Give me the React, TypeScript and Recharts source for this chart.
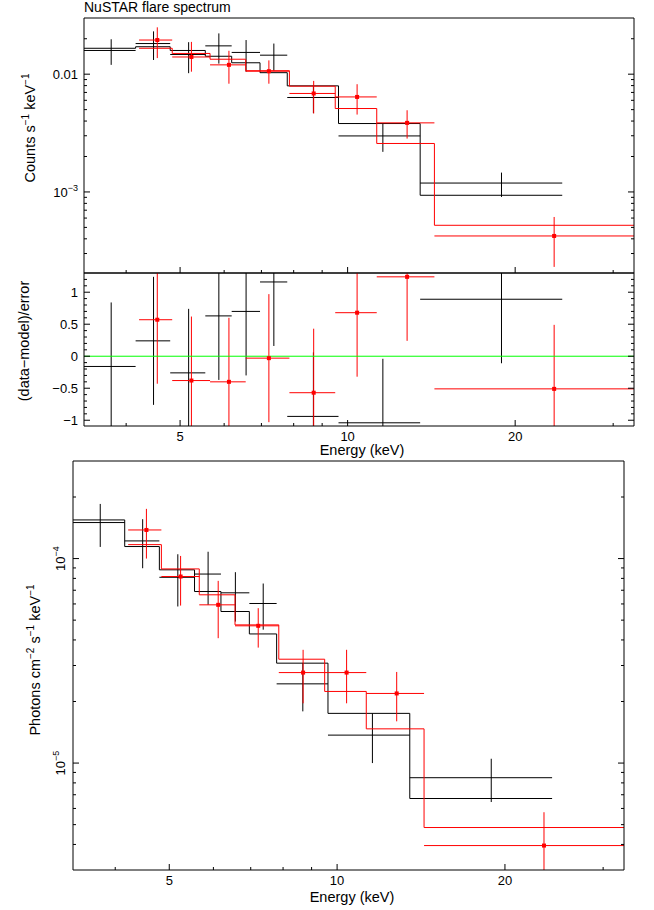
import React from 'react';
import { ComposedChart, Scatter, Line, XAxis, YAxis, ErrorBar, ReferenceLine } from 'recharts';

const FONT = '"Liberation Sans", Arial, Helvetica, sans-serif';
const W = 654;

// energy bins (keV) of the two detectors
const blackEdges = [3.35, 4.16, 4.8, 5.55, 6.19, 6.96, 7.79, 9.63, 13.5, 24.3];
const blackEnergy = [3.76, 4.48, 5.18, 5.87, 6.57, 7.37, 8.68, 11.57, 18.9];
const redEdges = [4.22, 4.84, 5.66, 6.56, 7.86, 9.5, 11.28, 14.32, 32.7];
const redEnergy = [4.55, 5.24, 6.12, 7.22, 8.69, 10.4, 12.79, 23.5];

// counts s-1 keV-1
const blackCounts = [0.0159, 0.0182, 0.0147, 0.0174, 0.0153, 0.0145, 0.00634, 0.00299, 0.00119];
const blackCountsLo = [0.012, 0.0132, 0.0102, 0.0123, 0.0105, 0.0107, 0.00467, 0.00219, 0.000907];
const blackCountsHi = [0.0198, 0.0231, 0.0187, 0.0222, 0.0195, 0.0182, 0.00801, 0.00381, 0.00146];
const blackCountsModel = [0.0166, 0.0171, 0.0159, 0.0142, 0.0125, 0.0103, 0.00796, 0.00381, 0.000937];
const redCounts = [0.0195, 0.014, 0.012, 0.0106, 0.00686, 0.00641, 0.00386, 0.000423];
const redCountsLo = [0.0137, 0.0105, 0.0083, 0.0083, 0.00464, 0.00454, 0.00284, 0.000231];
const redCountsHi = [0.025, 0.0188, 0.0158, 0.0131, 0.00877, 0.00822, 0.00494, 0.000613];
const redCountsModel = [0.0166, 0.015, 0.0134, 0.0107, 0.00791, 0.00511, 0.00258, 0.000521];

// (data-model)/error, error is 1 by definition
const blackResid = [-0.16, 0.24, -0.26, 0.63, 0.7, 1.16, -0.94, -1.04, 0.89];
const redResid = [0.57, -0.38, -0.4, -0.03, -0.57, 0.68, 1.24, -0.51];

// photons cm-2 s-1 keV-1
const blackFlux = [1.5e-4, 1.22e-4, 8.1e-5, 8.4e-5, 6.8e-5, 6.03e-5, 2.44e-5, 1.37e-5, 8.48e-6];
const blackFluxLo = [1.14e-4, 8.97e-5, 5.83e-5, 5.94e-5, 4.92e-5, 4.49e-5, 1.79e-5, 1.0e-5, 6.45e-6];
const blackFluxHi = [1.85e-4, 1.558e-4, 1.05e-4, 1.08e-4, 8.58e-5, 7.55e-5, 3.09e-5, 1.75e-5, 1.05e-5];
const blackFluxModel = [1.545e-4, 1.145e-4, 8.81e-5, 6.9e-5, 5.51e-5, 4.28e-5, 3.08e-5, 1.75e-5, 6.71e-6];
const redFlux = [1.38e-4, 8.17e-5, 5.94e-5, 4.69e-5, 2.77e-5, 2.77e-5, 2.19e-5, 3.95e-6];
const redFluxLo = [1.0e-4, 5.89e-5, 4.08e-5, 3.67e-5, 1.96e-5, 1.96e-5, 1.6e-5, 2.15e-6];
const redFluxHi = [1.75e-4, 1.03e-4, 7.78e-5, 5.72e-5, 3.58e-5, 3.58e-5, 2.79e-5, 5.75e-6];
const redFluxModel = [1.17e-4, 8.9e-5, 6.65e-5, 4.74e-5, 3.22e-5, 2.24e-5, 1.47e-5, 4.84e-6];

// axes
const xDomain = [3.36, 32.7];
const xTicks = [4, 5, 6, 7, 8, 9, 10, 20, 30];
const xLabelled = [5, 10, 20];
const countsDomain = [2.05e-4, 0.03];
const countsTicks = [3e-4, 4e-4, 5e-4, 6e-4, 7e-4, 8e-4, 9e-4, 1e-3, 2e-3, 3e-3, 4e-3, 5e-3, 6e-3, 7e-3, 8e-3, 9e-3, 0.01, 0.02];
const countsMajors = [1e-3, 0.01];
const residDomain = [-1.09, 1.3];
const residTicks = [-1, -0.9, -0.8, -0.7, -0.6, -0.5, -0.4, -0.3, -0.2, -0.1, 0, 0.1, 0.2, 0.3, 0.4, 0.5, 0.6, 0.7, 0.8, 0.9, 1, 1.1, 1.2];
const residMajors = [-1, -0.5, 0, 0.5, 1];
const residLabels = ['\u22121', '\u22120.5', '0', '0.5', '1'];
const fluxDomain = [3e-6, 3e-4];
const fluxTicks = [4e-6, 5e-6, 6e-6, 7e-6, 8e-6, 9e-6, 1e-5, 2e-5, 3e-5, 4e-5, 5e-5, 6e-5, 7e-5, 8e-5, 9e-5, 1e-4, 2e-4];
const fluxMajors = [1e-5, 1e-4];

// error bars are cut at the frame, like the plotting package does
const toPoints = (energy: number[], edges: number[], val: number[], lo: number[], hi: number[], dom: number[]) =>
  energy.map((e, i) => ({
    x: e,
    y: val[i],
    ex: [e - Math.max(edges[i], xDomain[0]), Math.min(edges[i + 1], xDomain[1]) - e],
    ey: [val[i] - Math.max(lo[i], dom[0]), Math.min(hi[i], dom[1]) - val[i]],
  }));
const toResid = (energy: number[], edges: number[], val: number[]) =>
  toPoints(energy, edges, val, val.map((v) => v - 1), val.map((v) => v + 1), residDomain);
const toSteps = (edges: number[], model: number[]) =>
  edges.map((e, i) => ({ x: e, y: model[Math.min(i, model.length - 1)] }));

const noMarker = () => <g />;
const redSquare = (p: any) => <rect x={p.cx - 2} y={p.cy - 2} width={4} height={4} fill="#ff0000" />;

const txt = { fontFamily: FONT, fill: '#000' };
const BLACK = '#000000';
const RED = '#ff0000';

function dataSeries(key: string, pts: any[], color: string, marker: boolean) {
  return (
    <Scatter key={key} data={pts} xAxisId="b" yAxisId="l" isAnimationActive={false} shape={marker ? redSquare : noMarker}>
      <ErrorBar dataKey="ex" direction="x" width={0} stroke={color} strokeWidth={1} isAnimationActive={false} />
      <ErrorBar dataKey="ey" direction="y" width={0} stroke={color} strokeWidth={1} isAnimationActive={false} />
    </Scatter>
  );
}

function modelSeries(key: string, pts: any[], color: string) {
  return (
    <Line key={key} data={pts} dataKey="y" xAxisId="b" yAxisId="l" type="stepAfter" stroke={color} strokeWidth={1}
      dot={false} activeDot={false} isAnimationActive={false} />
  );
}

// tick renderers: ticks point inward, majors are longer
const xTick = (side: 'top' | 'bottom', labelled: boolean) => (p: any) => {
  const v = p.payload.value;
  const major = xLabelled.includes(v);
  const dir = side === 'bottom' ? -1 : 1;
  return (
    <g>
      <line x1={p.x} x2={p.x} y1={p.y} y2={p.y + dir * (major ? 6 : 3)} stroke="#000" />
      {labelled && major ? (
        <text x={p.x} y={p.y + 14.5} textAnchor="middle" fontSize={13} {...txt}>{v}</text>
      ) : null}
    </g>
  );
};

const yTick = (side: 'left' | 'right', majors: number[], label?: (v: number, x: number, y: number) => any) => (p: any) => {
  const v = p.payload.value;
  const major = majors.includes(v);
  const dir = side === 'left' ? 1 : -1;
  return (
    <g>
      <line x1={p.x} x2={p.x + dir * (major ? 6 : 3)} y1={p.y} y2={p.y} stroke="#000" />
      {side === 'left' && major && label ? label(v, p.x, p.y) : null}
    </g>
  );
};

const sup = (s: string, size = 10) => <tspan dy={-6} fontSize={size}>{s}</tspan>;

const countsLabel = (v: number, x: number, y: number) => (
  <text x={x - 6} y={y} dy="0.36em" textAnchor="end" fontSize={13} {...txt}>
    {v === 0.01 ? '0.01' : <>10{sup('\u22123', 9)}</>}
  </text>
);
const residLabel = (v: number, x: number, y: number) => (
  <text x={x - 6} y={y} dy="0.36em" textAnchor="end" fontSize={13} {...txt}>
    {residLabels[residMajors.indexOf(v)]}
  </text>
);
const fluxLabel = (v: number, x: number, y: number) => (
  <text transform={`rotate(-90 ${x - 7.5} ${y})`} x={x - 7.5} y={y} textAnchor="middle" fontSize={13} {...txt}>
    10{sup(v === 1e-4 ? '\u22124' : '\u22125', 9)}
  </text>
);

const axisLine = { stroke: '#000', strokeWidth: 1 };

function xAxes(bottomH: number, topH: number, labelled: boolean, title?: any) {
  return [
    <XAxis key="xb" xAxisId="b" dataKey="x" type="number" scale="log" domain={xDomain} allowDataOverflow ticks={xTicks}
      interval={0} height={bottomH} tickSize={0} tickMargin={0} tickLine={false} axisLine={axisLine}
      tick={xTick('bottom', labelled)} label={title} />,
    <XAxis key="xt" xAxisId="t" orientation="top" type="number" scale="log" domain={xDomain} allowDataOverflow ticks={xTicks}
      interval={0} height={topH} tickSize={0} tickMargin={0} tickLine={false} axisLine={axisLine} tick={xTick('top', false)} />,
  ];
}

function yAxes(leftW: number, rightW: number, scale: any, domain: number[], ticks: number[], majors: number[],
  label: (v: number, x: number, y: number) => any, title: any) {
  return [
    <YAxis key="yl" yAxisId="l" dataKey="y" type="number" scale={scale} domain={domain} allowDataOverflow ticks={ticks}
      interval={0} width={leftW} tickSize={0} tickMargin={0} tickLine={false} axisLine={axisLine}
      tick={yTick('left', majors, label)} label={title} />,
    <YAxis key="yr" yAxisId="r" orientation="right" type="number" scale={scale} domain={domain} allowDataOverflow ticks={ticks}
      interval={0} width={rightW} tickSize={0} tickMargin={0} tickLine={false} axisLine={axisLine}
      tick={yTick('right', majors)} />,
  ];
}

const margin = { top: 0, right: 0, bottom: 0, left: 0 };

export default function App() {
  return (
    <div style={{ position: 'absolute', left: 0, top: 0, width: W, height: 910, background: '#fff', fontFamily: FONT }}>
      {/* counts panel */}
      <div style={{ position: 'absolute', left: 0, top: 0 }}>
        <ComposedChart width={W} height={278} margin={margin}>
          {xAxes(5, 18, false, () => (
            <text x={84} y={12} fontSize={14} {...txt}>NuSTAR flare spectrum</text>
          ))}
          {yAxes(84, 20, 'log', countsDomain, countsTicks, countsMajors, countsLabel, () => (
            <text transform="rotate(-90 35 128)" x={35} y={128} textAnchor="middle" fontSize={14.5} {...txt}>
              Counts s{sup('\u22121')}<tspan dy={6}> keV</tspan>{sup('\u22121')}
            </text>
          ))}
          {modelSeries('bm', toSteps(blackEdges, blackCountsModel), BLACK)}
          {dataSeries('bd', toPoints(blackEnergy, blackEdges, blackCounts, blackCountsLo, blackCountsHi, countsDomain), BLACK, false)}
          {modelSeries('rm', toSteps(redEdges, redCountsModel), RED)}
          {dataSeries('rd', toPoints(redEnergy, redEdges, redCounts, redCountsLo, redCountsHi, countsDomain), RED, true)}
        </ComposedChart>
      </div>

      {/* residual panel */}
      <div style={{ position: 'absolute', left: 0, top: 263 }}>
        <ComposedChart width={W} height={200} margin={margin}>
          {xAxes(37, 10, true, () => (
            <text x={362} y={192} textAnchor="middle" fontSize={14.5} {...txt}>Energy (keV)</text>
          ))}
          {yAxes(84, 20, 'linear', residDomain, residTicks, residMajors, residLabel, () => (
            <text transform="rotate(-90 29 78)" x={29} y={78} textAnchor="middle" fontSize={14.5} {...txt}>
              (data{'\u2212'}model)/error
            </text>
          ))}
          {dataSeries('bres', toResid(blackEnergy, blackEdges, blackResid), BLACK, false)}
          {dataSeries('rres', toResid(redEnergy, redEdges, redResid), RED, true)}
          <ReferenceLine y={0} xAxisId="b" yAxisId="l" stroke="#00ff00" strokeWidth={1} />
        </ComposedChart>
      </div>

      {/* unfolded photon spectrum */}
      <div style={{ position: 'absolute', left: 0, top: 440 }}>
        <ComposedChart width={W} height={470} margin={margin}>
          {xAxes(40, 21, true, () => (
            <text x={352} y={462} textAnchor="middle" fontSize={14.5} {...txt}>Energy (keV)</text>
          ))}
          {yAxes(73, 30, 'log', fluxDomain, fluxTicks, fluxMajors, fluxLabel, () => (
            <text transform="rotate(-90 40 220)" x={40} y={220} textAnchor="middle" fontSize={14.5} {...txt}>
              Photons cm{sup('\u22122')}<tspan dy={6}> s</tspan>{sup('\u22121')}<tspan dy={6}> keV</tspan>{sup('\u22121')}
            </text>
          ))}
          {modelSeries('bm', toSteps(blackEdges, blackFluxModel), BLACK)}
          {dataSeries('bd', toPoints(blackEnergy, blackEdges, blackFlux, blackFluxLo, blackFluxHi, fluxDomain), BLACK, false)}
          {modelSeries('rm', toSteps(redEdges, redFluxModel), RED)}
          {dataSeries('rd', toPoints(redEnergy, redEdges, redFlux, redFluxLo, redFluxHi, fluxDomain), RED, true)}
        </ComposedChart>
      </div>
    </div>
  );
}
